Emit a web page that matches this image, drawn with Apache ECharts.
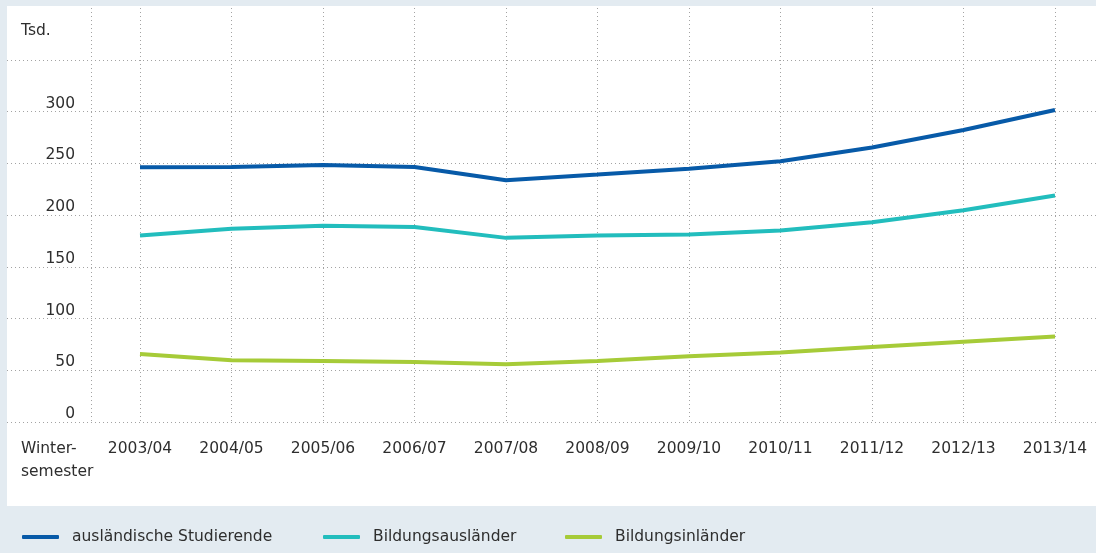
<!DOCTYPE html>
<html>
<head>
<meta charset="utf-8">
<script src="https://cdn.jsdelivr.net/npm/echarts@6/dist/echarts.min.js"></script>
<style>
  html, body { margin: 0; padding: 0; background: #e3ebf1; }
  #panel { position: absolute; left: 7px; top: 6px; width: 1089px; height: 500px; background: #fff; }
  #chart { position: absolute; left: 0; top: 0; width: 1096px; height: 553px; }
</style>
</head>
<body>
<div id="panel"></div>
<div id="chart"></div>
<script>
  // Wintersemester
  var semester = ['2003/04', '2004/05', '2005/06', '2006/07', '2007/08', '2008/09',
                  '2009/10', '2010/11', '2011/12', '2012/13', '2013/14'];
  // Werte in Tsd.
  var auslaendischeStudierende = [246.1, 246.3, 248.4, 246.4, 233.6, 239.1, 244.8, 252.0, 265.3, 282.2, 301.4];
  var bildungsauslaender = [180.3, 186.7, 189.5, 188.4, 177.9, 180.2, 181.2, 185.0, 192.9, 204.6, 218.8];
  var bildungsinlaender = [65.8, 59.7, 58.9, 57.9, 55.8, 58.9, 63.5, 67.1, 72.4, 77.6, 82.5];
  var yTicks = [0, 50, 100, 150, 200, 250, 300];

  var font = '"DejaVu Sans", sans-serif';
  var fontSize = 15.5;
  var textColor = '#2e2e2e';
  var dotted = { color: '#a3a3a3', width: 1, type: [1, 3] };

  var chart = echarts.init(document.getElementById('chart'));

  function legendAt(name, left) {
    return {
      data: [name],
      left: left,
      top: 524,
      icon: 'roundRect',
      itemWidth: 37,
      itemHeight: 4,
      textStyle: { fontFamily: font, fontSize: fontSize, color: textColor, padding: [0, 0, 0, 8] }
    };
  }

  var option = {
    animation: false,
    grid: [
      { left: 140, right: 41, top: 8, bottom: 131 },
      { left: 7, right: 0, top: 8, bottom: 131 }
    ],
    xAxis: [
      {
        gridIndex: 0,
        type: 'category',
        data: semester,
        boundaryGap: false,
        axisLine: { show: false },
        axisTick: { show: false },
        axisLabel: { fontFamily: font, fontSize: fontSize, color: textColor, margin: 19 },
        splitLine: { show: true, lineStyle: dotted }
      },
      { gridIndex: 1, type: 'value', show: false }
    ],
    yAxis: [
      {
        gridIndex: 0,
        type: 'value',
        min: 0,
        max: 400,
        interval: 50,
        axisLine: { show: false },
        axisTick: { show: false },
        splitLine: { show: false },
        axisLabel: {
          fontFamily: font, fontSize: fontSize, color: textColor, margin: 65,
          verticalAlign: 'bottom',
          formatter: function (v) { return yTicks.indexOf(v) >= 0 ? String(v) : ''; }
        }
      },
      {
        gridIndex: 1,
        type: 'value',
        min: 0,
        max: 400,
        interval: 50,
        axisLine: { show: false },
        axisTick: { show: false },
        axisLabel: { show: false },
        splitLine: { show: true, showMaxLine: false, lineStyle: dotted }
      }
    ],
    legend: [
      legendAt('ausländische Studierende', 17),
      legendAt('Bildungsausländer', 318),
      legendAt('Bildungsinländer', 560)
    ],
    graphic: [
      {
        type: 'line',
        shape: { x1: 91.5, y1: 8, x2: 91.5, y2: 422 },
        style: { stroke: '#a3a3a3', lineWidth: 1, lineDash: [1, 3] },
        silent: true
      },
      {
        type: 'text', left: 21, top: 23,
        style: { text: 'Tsd.', font: fontSize + 'px ' + font, fill: textColor }
      },
      {
        type: 'text', left: 21, top: 437,
        style: { text: 'Winter-\nsemester', font: fontSize + 'px ' + font, fill: textColor, lineHeight: 23 }
      }
    ],
    series: [
      {
        name: 'ausländische Studierende', type: 'line', data: auslaendischeStudierende,
        symbol: 'none', color: '#075aa8', lineStyle: { width: 4 }
      },
      {
        name: 'Bildungsausländer', type: 'line', data: bildungsauslaender,
        symbol: 'none', color: '#22bdbd', lineStyle: { width: 4 }
      },
      {
        name: 'Bildungsinländer', type: 'line', data: bildungsinlaender,
        symbol: 'none', color: '#a6cb38', lineStyle: { width: 4 }
      }
    ]
  };

  chart.setOption(option);
</script>
</body>
</html>
